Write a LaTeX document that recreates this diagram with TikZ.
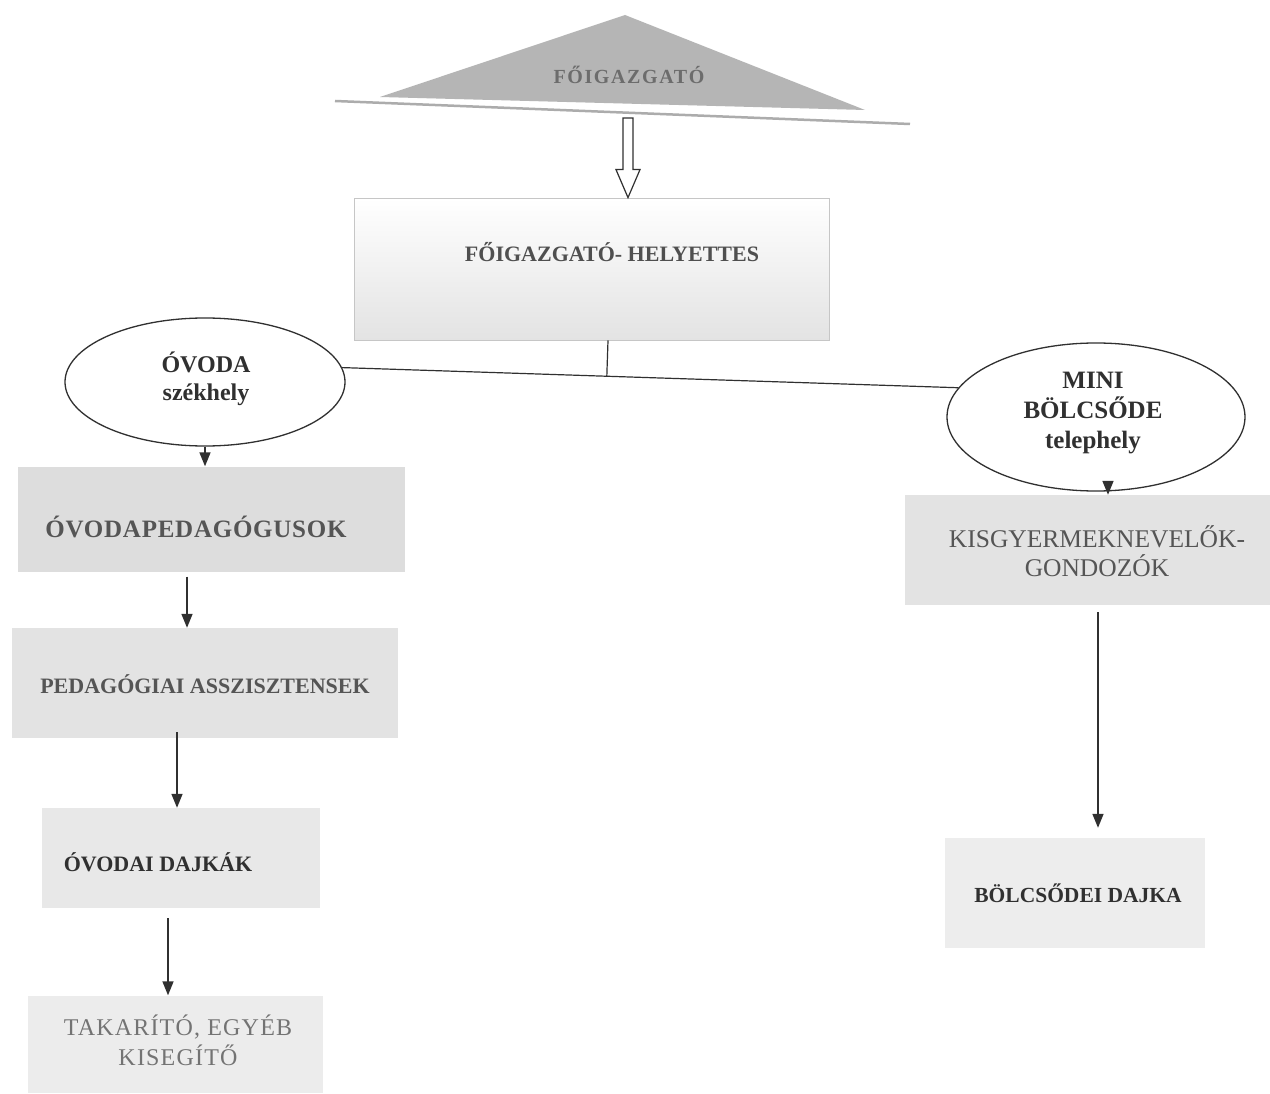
\documentclass[tikz,border=0pt]{standalone}
\usepackage{fontspec}
\setmainfont{Liberation Serif}
\usetikzlibrary{shapes.geometric,arrows.meta,calc}
\definecolor{txtgray}{HTML}{555555}
\definecolor{boxgray}{HTML}{E2E2E2}
\definecolor{trigray}{HTML}{B5B5B5}
\definecolor{inkc}{HTML}{303030}
\begin{document}
\begin{tikzpicture}[x=1pt,y=-1pt,
  boxnode/.style={rectangle, fill=boxgray, draw=none, inner sep=0pt},
  ellnode/.style={ellipse, draw=inkc, line width=1.3pt, fill=white, inner sep=0pt},
  graytxt/.style={text=txtgray, font=\bfseries, align=center, inner sep=0pt},
  blacktxt/.style={text=inkc, font=\bfseries, align=center, inner sep=0pt},
  arr/.style={draw=inkc, line width=1.6pt, -{Triangle[length=14pt,width=11pt]}},
  conn/.style={draw=inkc, line width=1.2pt}]
\useasboundingbox (0,0) rectangle (1270,1094);
\fill[white] (0,0) rectangle (1270,1094);

% top triangle
\fill[trigray] (625,15) coordinate (tapex) -- (865,110) coordinate (tright) -- (380,97) coordinate (tleft) -- cycle;
\draw[gray!65, line width=2.5pt] (335,101) coordinate (ula) -- (910,124) coordinate (ulb);
\node[text=gray!85!black, font=\fontsize{20}{22}\selectfont\bfseries, inner sep=0pt] (fo) at (629,75) {\addfontfeature{LetterSpace=8}FŐIGAZGATÓ};

% deputy box
\node[rectangle, draw=gray!45, line width=0.8pt, top color=white, bottom color=gray!22,
  minimum width=475pt, minimum height=142pt, inner sep=0pt] (hel) at (592,269) {};
\node[graytxt, text=inkc!85, font=\fontsize{22}{24}\selectfont\bfseries] (helt) at (612,252) {FŐIGAZGATÓ- HELYETTES};

% hollow arrow from the triangle to the deputy box
\coordinate (hatop) at (628,118);
\coordinate (hatip) at (hatop |- hel.north);
\draw[draw=inkc, fill=white, line width=1.2pt, line join=miter]
  ($(hatop)+(-5,0)$) -- ($(hatop)+(5,0)$) -- ($(hatip)+(5,-28)$) -- ($(hatip)+(12,-28)$)
  -- (hatip) -- ($(hatip)+(-12,-28)$) -- ($(hatip)+(-5,-28)$) -- cycle;

% ellipses
\node[ellnode, minimum width=280pt, minimum height=128pt] (ovoda) at (205,382) {};
\node[blacktxt, font=\fontsize{24}{28}\selectfont\bfseries] (ovodat) at (206,379) {ÓVODA\\székhely};
\node[ellnode, minimum width=298pt, minimum height=148pt] (mini) at (1096,417) {};
\node[blacktxt, font=\fontsize{25}{30}\selectfont\bfseries] (minit) at (1093,413) {MINI\\BÖLCSŐDE\\telephely};

% connector line
\draw[conn] (ovoda.6) -- (mini.168);
\coordinate (hs) at ([xshift=16pt]hel.south);
\coordinate (j) at ($(ovoda.6)!(hs)!(mini.168)$);
\draw[conn] (hs) -- (j);

% left column boxes
\node[boxnode, fill=gray!27, minimum width=387pt, minimum height=105pt] (ped) at (211,519) {};
\node[graytxt, font=\fontsize{25}{27}\selectfont\bfseries] (pedt) at (196,527) {\addfontfeature{LetterSpace=3}ÓVODAPEDAGÓGUSOK};
\node[boxnode, fill=gray!22, minimum width=386pt, minimum height=110pt] (asz) at (205,683) {};
\node[graytxt, font=\fontsize{22}{24}\selectfont\bfseries] (aszt) at (205,684) {PEDAGÓGIAI ASSZISZTENSEK};
\node[boxnode, fill=gray!18, minimum width=278pt, minimum height=100pt] (daj) at (181,858) {};
\node[blacktxt, font=\fontsize{22}{24}\selectfont\bfseries] (dajt) at (158,862) {ÓVODAI DAJKÁK};
\node[boxnode, fill=gray!15, minimum width=295pt, minimum height=97pt] (tak) at (175,1044) {};
\node[graytxt, text=gray!90!black, font=\fontsize{24}{30}\selectfont] (takt) at (178,1040) {\addfontfeature{LetterSpace=5}TAKARÍTÓ, EGYÉB\\\addfontfeature{LetterSpace=5}KISEGÍTŐ};

% right column boxes
\node[boxnode, fill=gray!22, minimum width=365pt, minimum height=110pt] (kis) at (1087,550) {};
\node[graytxt, font=\fontsize{25.5}{29}\selectfont] (kist) at (1097,551) {KISGYERMEKNEVELŐK-\\GONDOZÓK};
\node[boxnode, fill=gray!14, minimum width=260pt, minimum height=110pt] (bd) at (1075,893) {};
\node[blacktxt, font=\fontsize{21.5}{23}\selectfont\bfseries] (bdt) at (1078,893) {BÖLCSŐDEI DAJKA};

% arrows
\draw[arr] (ovoda.south) -- (ovoda.south |- ped.north);
\draw[arr] ([xshift=-24pt,yshift=-5pt]ped.south) -- ([xshift=-24pt]ped.south |- asz.north);
\draw[arr] ([xshift=-28pt,yshift=6pt]asz.south) -- ([xshift=-28pt]asz.south |- daj.north);
\draw[arr] ([xshift=-13pt,yshift=-10pt]daj.south) -- ([xshift=-13pt]daj.south |- tak.north);
\draw[arr] ([xshift=12pt]mini.south) -- ([xshift=12pt]mini.south |- kis.north);
\draw[arr] ([xshift=11pt,yshift=-7pt]kis.south) -- ([xshift=11pt,yshift=10pt]kis.south |- bd.north);
\end{tikzpicture}
\end{document}
